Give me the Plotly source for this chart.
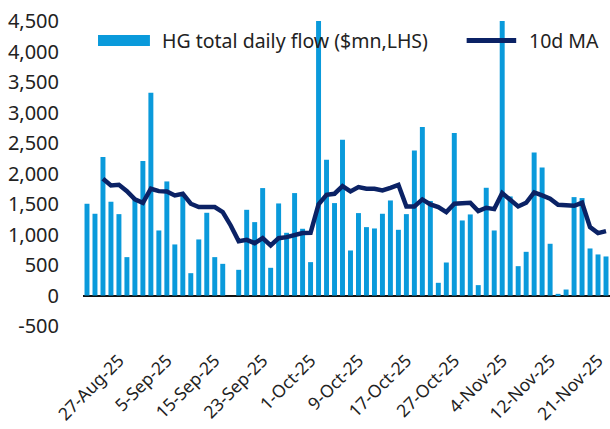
import plotly.graph_objects as go

dates = [
    "20-Aug-25", "21-Aug-25", "22-Aug-25", "25-Aug-25", "26-Aug-25", "27-Aug-25", "28-Aug-25", "29-Aug-25",
    "2-Sep-25", "3-Sep-25", "4-Sep-25", "5-Sep-25", "8-Sep-25", "9-Sep-25", "10-Sep-25", "11-Sep-25",
    "12-Sep-25", "15-Sep-25", "16-Sep-25", "17-Sep-25", "18-Sep-25", "19-Sep-25", "22-Sep-25", "23-Sep-25",
    "24-Sep-25", "25-Sep-25", "26-Sep-25", "29-Sep-25", "30-Sep-25",
    "1-Oct-25", "2-Oct-25", "3-Oct-25", "6-Oct-25", "7-Oct-25", "8-Oct-25", "9-Oct-25", "10-Oct-25",
    "13-Oct-25", "14-Oct-25", "15-Oct-25", "16-Oct-25", "17-Oct-25", "20-Oct-25", "21-Oct-25", "22-Oct-25",
    "23-Oct-25", "24-Oct-25", "27-Oct-25", "28-Oct-25", "29-Oct-25", "30-Oct-25", "31-Oct-25",
    "3-Nov-25", "4-Nov-25", "5-Nov-25", "6-Nov-25", "7-Nov-25", "10-Nov-25", "11-Nov-25", "12-Nov-25",
    "13-Nov-25", "17-Nov-25", "18-Nov-25", "19-Nov-25", "20-Nov-25", "21-Nov-25",
]

daily_flow = [
    1504, 1340, 2269, 1537, 1334, 629, 1580, 2204, 3325, 1066, 1870, 837, 1650, 366, 919, 1356,
    629, 519, None, 421, 1405, 1203, 1761, 454, 1509, 1028, 1679, 1094, 547,
    4500, 2225, 1515, 2554, 738, 1351, 1121, 1099, 1340, 1558, 1077, 1334, 2379, 2761, 1550,
    208, 541, 2663, 1230, 1329, 170, 1766, 1066,
    4500, 1624, 481, 716, 2346, 2100, 848, 27, 98, 1613, 1597, 771, 673, 640,
]

ma_10d = [
    None, None, 1914, 1804, 1815, 1711, 1575, 1520, 1750, 1711, 1706, 1640, 1668, 1504, 1449, 1449,
    1449, 1367, 1148, 891, 913, 858, 940, 820, 940, 957, 984, 1023, 1028,
    1493, 1651, 1668, 1793, 1706, 1777, 1750, 1750, 1722, 1766, 1815, 1460, 1460, 1575, 1493,
    1449, 1367, 1504, 1520, 1520, 1383, 1438, 1416,
    1679, 1569, 1460, 1520, 1690, 1640, 1586, 1487, 1476, 1471, 1520, 1121, 1023, 1055,
]

tick_dates = ["27-Aug-25", "5-Sep-25", "15-Sep-25", "23-Sep-25", "1-Oct-25", "9-Oct-25",
              "17-Oct-25", "27-Oct-25", "4-Nov-25", "12-Nov-25", "21-Nov-25"]
y_ticks = [-500, 0, 500, 1000, 1500, 2000, 2500, 3000, 3500, 4000, 4500]
y_ticktext = ["-500", "0", "500", "1,000", "1,500", "2,000", "2,500", "3,000", "3,500", "4,000", "4,500"]

series_names = ["HG total daily flow ($mn,LHS)", "10d MA"]
BAR_COLOR = "#0A9ADB"
LINE_COLOR = "#0B2265"
TEXT_COLOR = "#222222"
FONT = "Noto Sans, DejaVu Sans, sans-serif"

fig = go.Figure()
fig.add_trace(go.Bar(
    x=dates, y=daily_flow, name=series_names[0],
    marker=dict(color=BAR_COLOR, line=dict(width=0)),
))
fig.add_trace(go.Scatter(
    x=dates, y=ma_10d, name=series_names[1], mode="lines",
    line=dict(color=LINE_COLOR, width=4.5),
))

# legend drawn as wide swatches + labels, like the original
fig.add_shape(type="rect", xref="x domain", yref="y domain",
              x0=0.0285, x1=0.127, y0=0.918, y1=0.954,
              fillcolor=BAR_COLOR, line=dict(width=0))
fig.add_annotation(xref="x domain", yref="y domain", x=0.146, y=0.936,
                   xanchor="left", yanchor="middle", showarrow=False,
                   text=series_names[0], font=dict(size=19.5, color=TEXT_COLOR, family=FONT))
fig.add_shape(type="line", xref="x domain", yref="y domain",
              x0=0.728, x1=0.822, y0=0.936, y1=0.936,
              line=dict(color=LINE_COLOR, width=5))
fig.add_annotation(xref="x domain", yref="y domain", x=0.8425, y=0.936,
                   xanchor="left", yanchor="middle", showarrow=False,
                   text=series_names[1], font=dict(size=19.5, color=TEXT_COLOR, family=FONT))

fig.update_layout(
    width=610, height=429,
    margin=dict(l=83, r=0, t=21, b=103),
    paper_bgcolor="white", plot_bgcolor="white",
    bargap=0.38,
    font=dict(family=FONT, size=20, color=TEXT_COLOR),
    showlegend=False,
    xaxis=dict(type="category", categoryorder="array", categoryarray=dates,
               tickmode="array", tickvals=tick_dates, ticktext=tick_dates,
               tickangle=-45, showgrid=False, showline=False, ticks="",
               tickfont=dict(size=17.5), ticklabelstandoff=20, ticklabelshift=-8,
               range=[-0.5, len(dates) - 0.5]),
    yaxis=dict(range=[-500, 4500], tickmode="array", tickvals=y_ticks, ticktext=y_ticktext,
               showgrid=False, zeroline=True, zerolinecolor="#111111", zerolinewidth=2,
               showline=False, ticks="", ticklabelstandoff=23, tickfont=dict(size=20)),
)

fig.write_html("out.html", config={"displayModeBar": False},
               post_script="document.body.style.margin='0';document.body.style.overflow='hidden';")
